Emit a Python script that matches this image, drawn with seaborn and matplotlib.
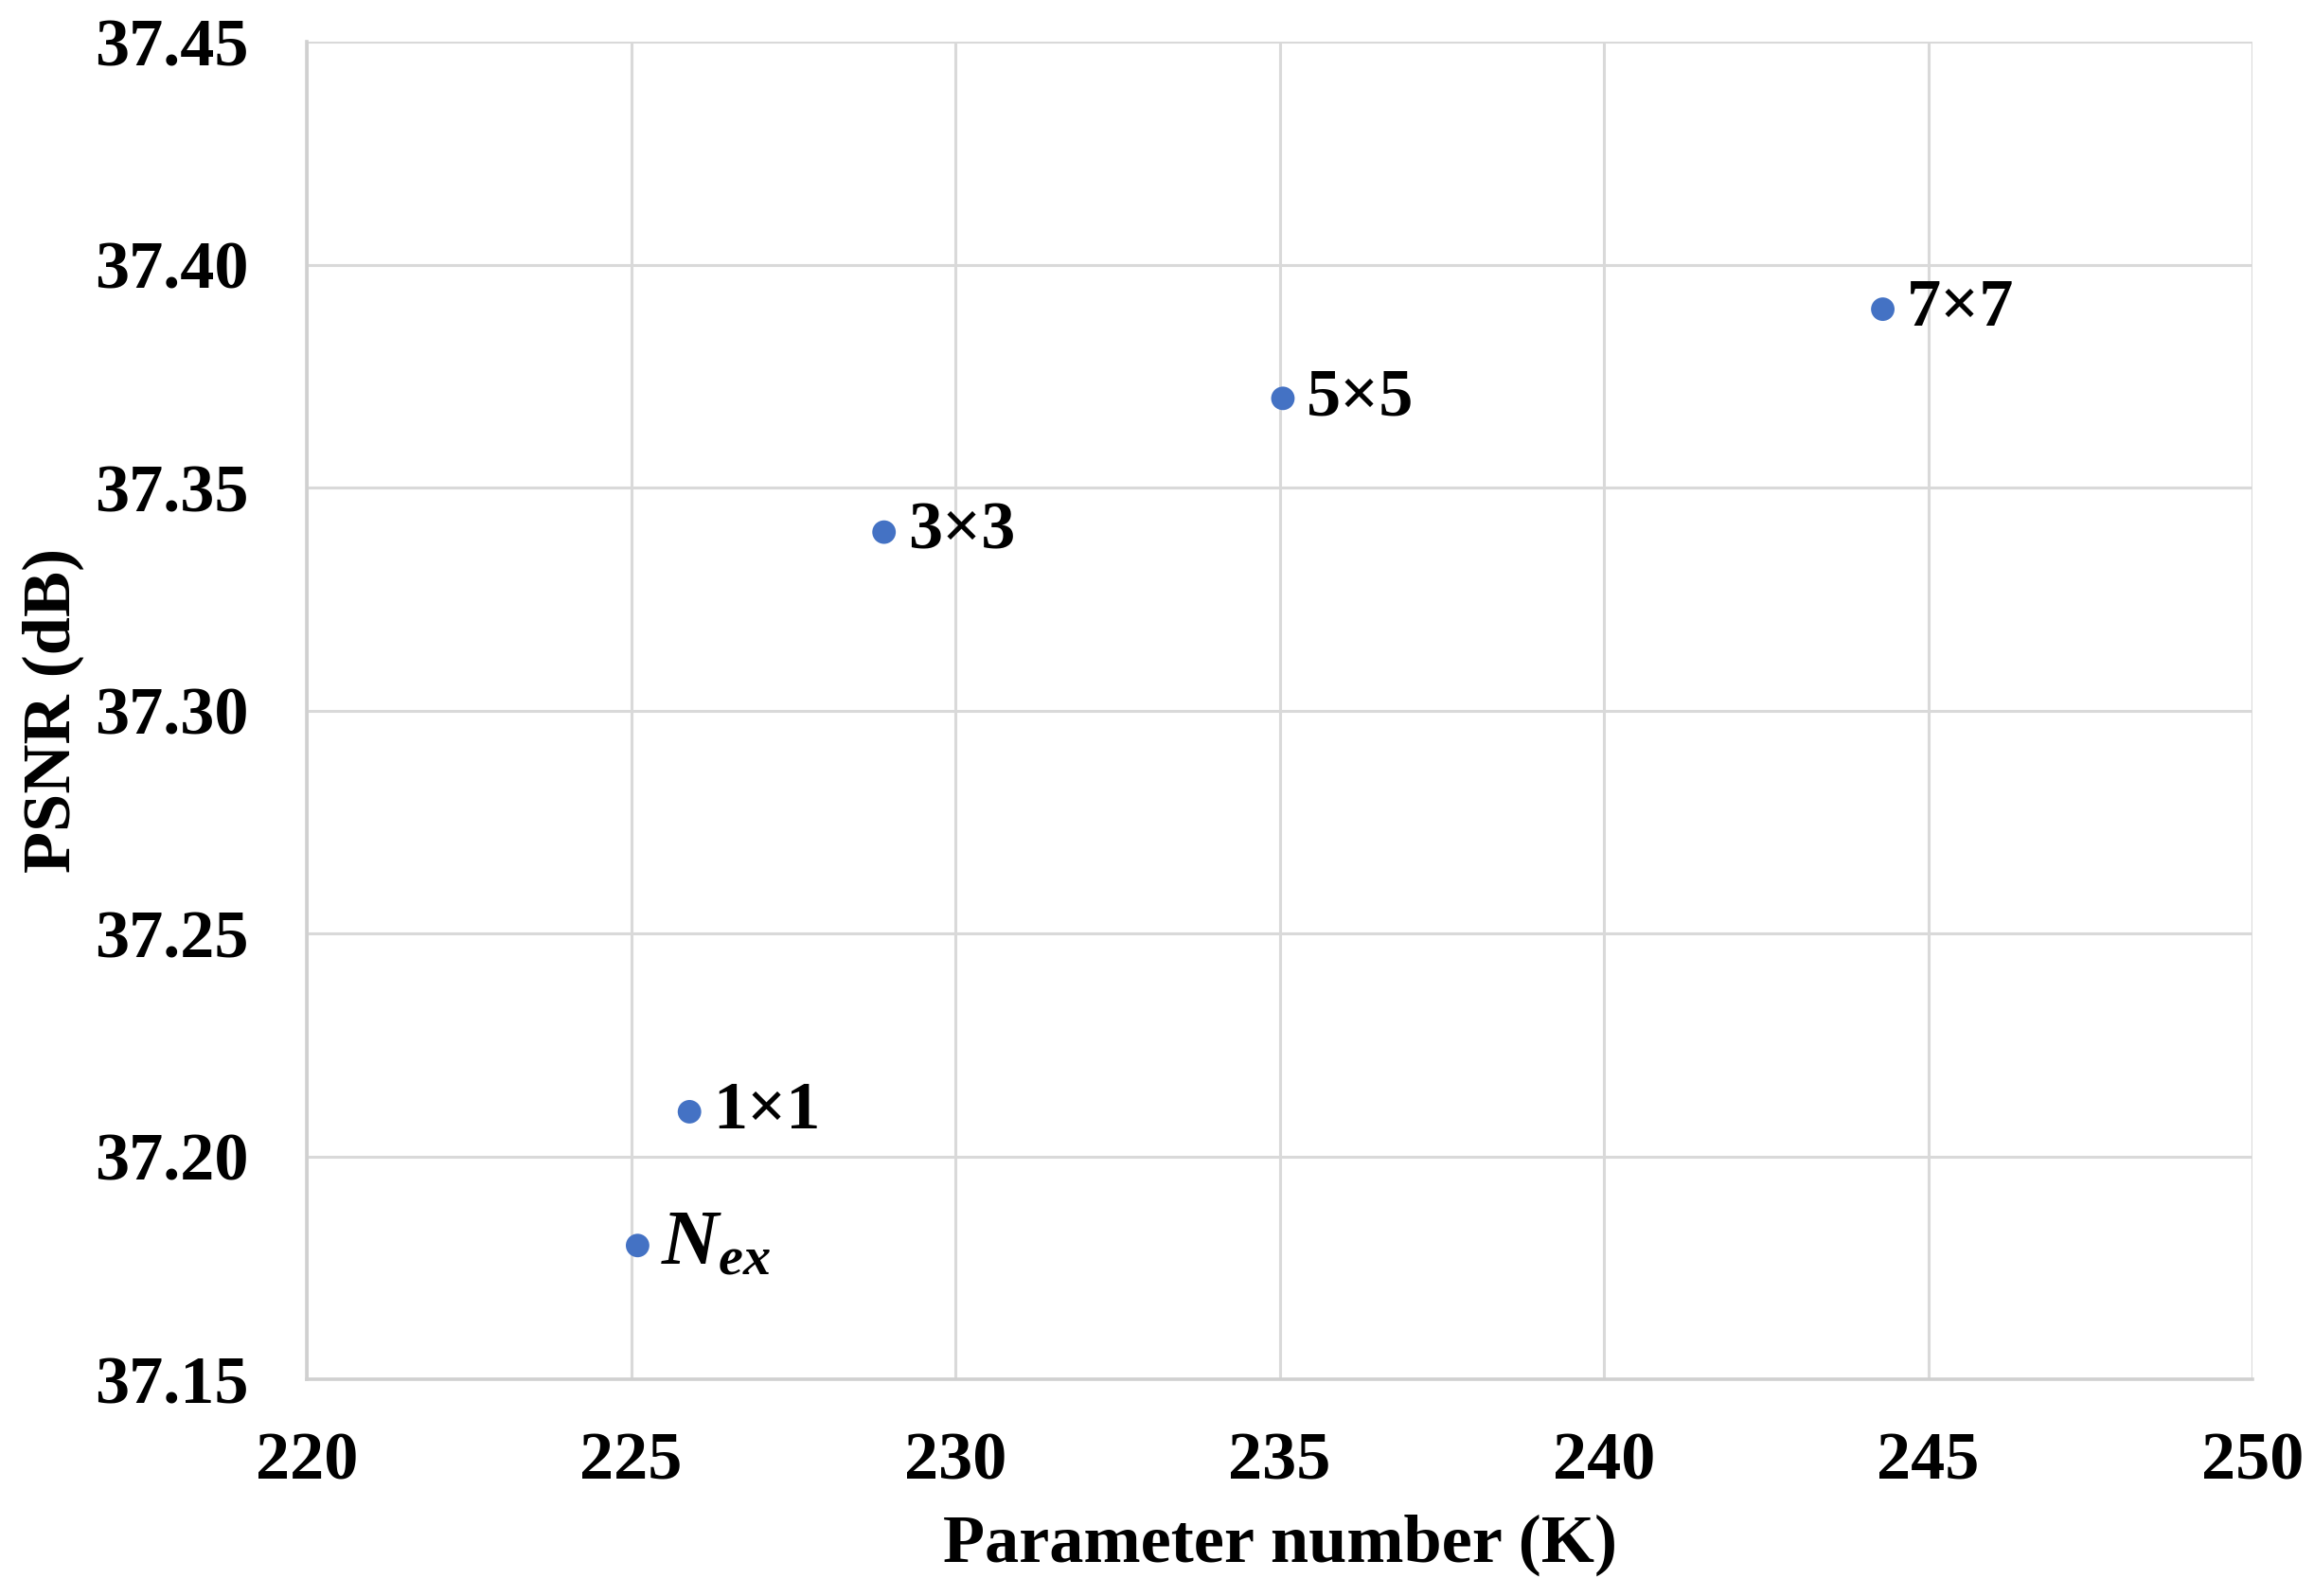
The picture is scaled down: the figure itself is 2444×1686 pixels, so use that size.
import pandas as pd
import seaborn as sns
import matplotlib.pyplot as plt

# data
params = [225.1, 225.9, 228.9, 235.05, 244.3]
psnr = [37.18, 37.21, 37.34, 37.37, 37.39]
names = [r'$N_{ex}$', '1×1', '3×3', '5×5', '7×7']

df = pd.DataFrame({'params': params, 'psnr': psnr, 'name': names})

sns.set_theme(style='whitegrid')
plt.rcParams['font.family'] = ['Liberation Serif', 'DejaVu Serif']
plt.rcParams['font.weight'] = 'bold'
plt.rcParams['mathtext.fontset'] = 'custom'
plt.rcParams['mathtext.it'] = 'Liberation Serif:italic:bold'
plt.rcParams['mathtext.rm'] = 'Liberation Serif:bold'
plt.rcParams['text.color'] = 'black'
plt.rcParams['axes.labelcolor'] = 'black'
plt.rcParams['xtick.color'] = 'black'
plt.rcParams['ytick.color'] = 'black'

fig = plt.figure(figsize=(12.22, 8.43), dpi=200)
ax = fig.add_axes([0.1326, 0.1358, 0.8408, 0.8381])

sns.scatterplot(data=df, x='params', y='psnr', color='#4472C4', s=80,
                edgecolor='none', ax=ax, zorder=3)

# labels next to the points
for _, r in df.iterrows():
    fs = 30 if r['name'].startswith('$') else 26
    ax.annotate(r['name'], (r['params'], r['psnr']), xytext=(9, 0),
                textcoords='offset points', ha='left', va='center',
                fontsize=fs, fontweight='bold', color='black')

ax.set_xlim(220, 250)
ax.set_ylim(37.15, 37.45)
ax.set_xticks(range(220, 251, 5))
ax.set_yticks([37.15, 37.20, 37.25, 37.30, 37.35, 37.40, 37.45])
ax.set_yticklabels([f'{v:.2f}' for v in ax.get_yticks()])

ax.grid(True, color='#D9D9D9', linewidth=1.1)
for s in ax.spines.values():
    s.set_visible(False)
for s in ['left', 'bottom']:
    ax.spines[s].set_visible(True)
    ax.spines[s].set_color('#D0D0D0')
    ax.spines[s].set_linewidth(1.3)

ax.tick_params(axis='y', length=0, labelsize=26, pad=22)
ax.tick_params(axis='x', length=0, labelsize=26, pad=20)
for lab in ax.get_xticklabels() + ax.get_yticklabels():
    lab.set_fontweight('bold')

ax.set_xlabel('Parameter number (K)', fontsize=26, fontweight='bold', labelpad=8)
ax.set_ylabel('PSNR (dB)', fontsize=26, fontweight='bold', labelpad=4)

plt.savefig('out.png', dpi=200, facecolor='white')
